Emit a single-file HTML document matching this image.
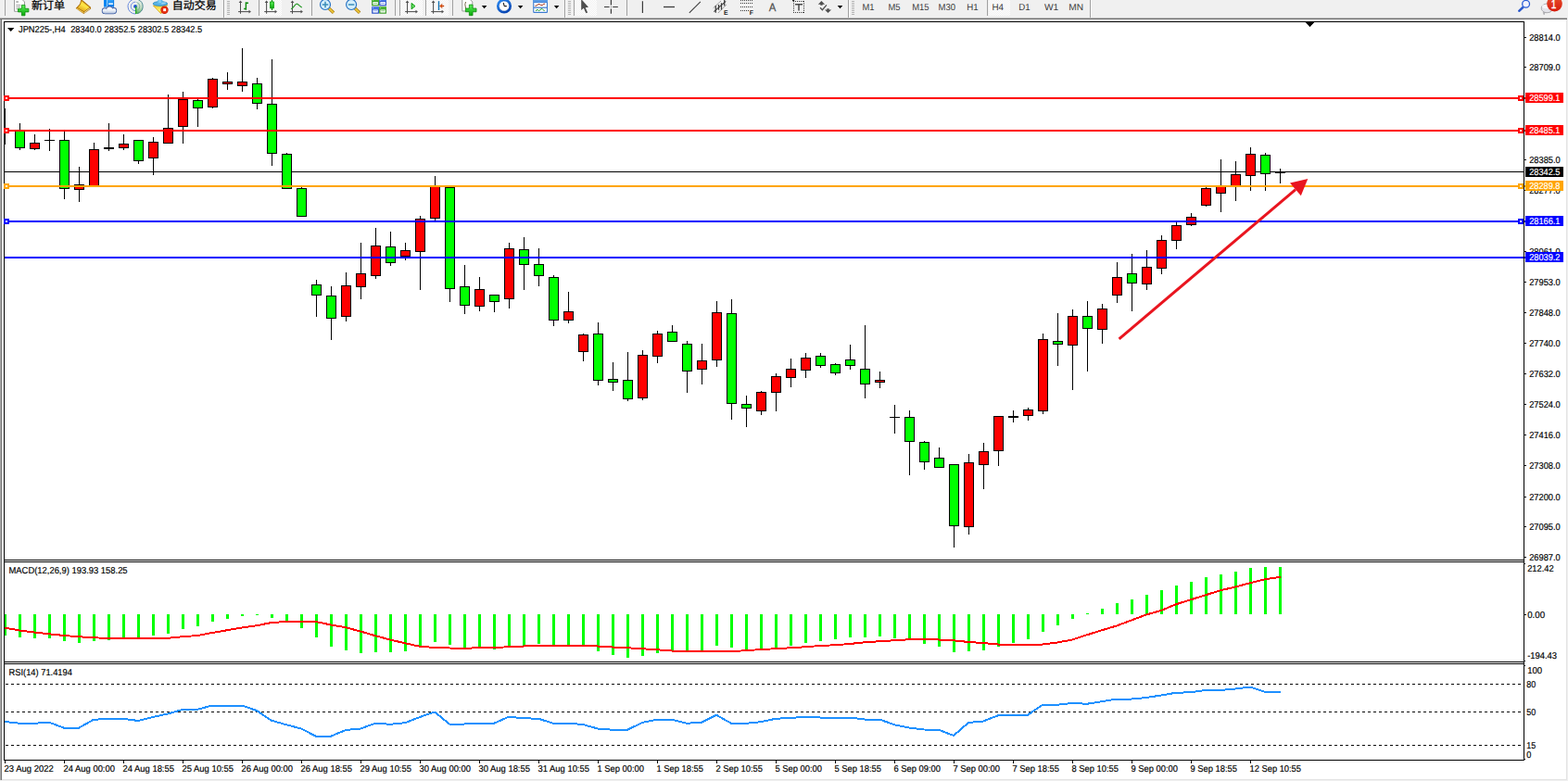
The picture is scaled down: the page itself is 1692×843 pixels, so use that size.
<!DOCTYPE html>
<html><head><meta charset="utf-8"><title>JPN225-,H4</title>
<style>
html,body{margin:0;padding:0;background:#fff;overflow:hidden}
body{width:1692px;height:843px;font-family:"Liberation Sans",sans-serif}
svg{display:block;position:absolute;left:0;top:0}
text{font-family:"Liberation Sans",sans-serif;text-rendering:geometricPrecision}
.tx text{stroke:currentColor;stroke-width:.18px}
</style></head><body>
<svg width="1692" height="843" viewBox="0 0 1692 843">
<rect x="0" y="0" width="1692" height="843" fill="#ffffff"/>
<rect x="0" y="0" width="1692" height="19" fill="#f0f0f0"/>
<rect x="0" y="19" width="1691" height="1" fill="#b9b9b9"/>
<rect x="0" y="20" width="1691" height="1" fill="#6d6d6d"/>
<rect x="0" y="21" width="1" height="822" fill="#ababab"/>
<rect x="1" y="21" width="1" height="822" fill="#747474"/>
<rect x="1690" y="21" width="1" height="821" fill="#e3e3e3"/>
<rect x="1691" y="19" width="1" height="824" fill="#f0f0f0"/>
<rect x="2" y="841" width="1689" height="1" fill="#e3e3e3"/>
<rect x="0" y="842" width="1692" height="1" fill="#f0f0f0"/>
<!-- CHART -->
<g shape-rendering="crispEdges">
<rect x="4" y="23" width="1" height="798" fill="#000"/>
<rect x="4" y="23" width="1641" height="1" fill="#000"/>
<rect x="1644" y="23" width="1" height="798" fill="#000"/>
<rect x="4" y="604" width="1641" height="1" fill="#000"/>
<rect x="4" y="606" width="1641" height="1" fill="#000"/>
<rect x="4" y="714" width="1641" height="1" fill="#000"/>
<rect x="4" y="716" width="1641" height="1" fill="#000"/>
<rect x="4" y="820" width="1641" height="1" fill="#000"/>
<rect x="1409" y="24" width="9" height="1" fill="#000"/>
<rect x="1410" y="25" width="7" height="1" fill="#000"/>
<rect x="1411" y="26" width="5" height="1" fill="#000"/>
<rect x="1412" y="27" width="3" height="1" fill="#000"/>
<rect x="1413" y="28" width="1" height="1" fill="#000"/>
<rect x="5" y="185" width="1639" height="1" fill="#000"/>
<rect x="5" y="117" width="1" height="39" fill="#000"/>
<rect x="21" y="133" width="1" height="29" fill="#000"/>
<rect x="16" y="141" width="11" height="19" fill="#000"/>
<rect x="17" y="142" width="9" height="17" fill="#00ff00"/>
<rect x="37" y="145" width="1" height="17" fill="#000"/>
<rect x="32" y="154" width="11" height="7" fill="#000"/>
<rect x="33" y="155" width="9" height="5" fill="#ff0000"/>
<rect x="53" y="139" width="1" height="24" fill="#000"/>
<rect x="48" y="151" width="11" height="1" fill="#000"/>
<rect x="69" y="142" width="1" height="73" fill="#000"/>
<rect x="64" y="151" width="11" height="53" fill="#000"/>
<rect x="65" y="152" width="9" height="51" fill="#00ff00"/>
<rect x="85" y="180" width="1" height="38" fill="#000"/>
<rect x="80" y="199" width="11" height="6" fill="#000"/>
<rect x="81" y="200" width="9" height="4" fill="#ff0000"/>
<rect x="101" y="154" width="1" height="47" fill="#000"/>
<rect x="96" y="161" width="11" height="40" fill="#000"/>
<rect x="97" y="162" width="9" height="38" fill="#ff0000"/>
<rect x="117" y="133" width="1" height="30" fill="#000"/>
<rect x="112" y="159" width="11" height="2" fill="#000"/>
<rect x="133" y="145" width="1" height="17" fill="#000"/>
<rect x="128" y="155" width="11" height="5" fill="#000"/>
<rect x="129" y="156" width="9" height="3" fill="#ff0000"/>
<rect x="149" y="151" width="1" height="26" fill="#000"/>
<rect x="144" y="151" width="11" height="23" fill="#000"/>
<rect x="145" y="152" width="9" height="21" fill="#00ff00"/>
<rect x="165" y="148" width="1" height="41" fill="#000"/>
<rect x="160" y="153" width="11" height="18" fill="#000"/>
<rect x="161" y="154" width="9" height="16" fill="#ff0000"/>
<rect x="181" y="102" width="1" height="53" fill="#000"/>
<rect x="176" y="138" width="11" height="17" fill="#000"/>
<rect x="177" y="139" width="9" height="15" fill="#ff0000"/>
<rect x="197" y="99" width="1" height="56" fill="#000"/>
<rect x="192" y="107" width="11" height="30" fill="#000"/>
<rect x="193" y="108" width="9" height="28" fill="#ff0000"/>
<rect x="213" y="106" width="1" height="31" fill="#000"/>
<rect x="208" y="108" width="11" height="9" fill="#000"/>
<rect x="209" y="109" width="9" height="7" fill="#00ff00"/>
<rect x="229" y="84" width="1" height="33" fill="#000"/>
<rect x="224" y="85" width="11" height="31" fill="#000"/>
<rect x="225" y="86" width="9" height="29" fill="#ff0000"/>
<rect x="245" y="78" width="1" height="19" fill="#000"/>
<rect x="240" y="88" width="11" height="3" fill="#000"/>
<rect x="241" y="89" width="9" height="1" fill="#ff0000"/>
<rect x="261" y="52" width="1" height="47" fill="#000"/>
<rect x="256" y="88" width="11" height="5" fill="#000"/>
<rect x="257" y="89" width="9" height="3" fill="#ff0000"/>
<rect x="277" y="84" width="1" height="34" fill="#000"/>
<rect x="272" y="90" width="11" height="22" fill="#000"/>
<rect x="273" y="91" width="9" height="20" fill="#00ff00"/>
<rect x="293" y="64" width="1" height="115" fill="#000"/>
<rect x="288" y="112" width="11" height="54" fill="#000"/>
<rect x="289" y="113" width="9" height="52" fill="#00ff00"/>
<rect x="309" y="165" width="1" height="39" fill="#000"/>
<rect x="304" y="166" width="11" height="38" fill="#000"/>
<rect x="305" y="167" width="9" height="36" fill="#00ff00"/>
<rect x="325" y="202" width="1" height="32" fill="#000"/>
<rect x="320" y="203" width="11" height="31" fill="#000"/>
<rect x="321" y="204" width="9" height="29" fill="#00ff00"/>
<rect x="341" y="302" width="1" height="40" fill="#000"/>
<rect x="336" y="307" width="11" height="12" fill="#000"/>
<rect x="337" y="308" width="9" height="10" fill="#00ff00"/>
<rect x="357" y="309" width="1" height="58" fill="#000"/>
<rect x="352" y="319" width="11" height="25" fill="#000"/>
<rect x="353" y="320" width="9" height="23" fill="#00ff00"/>
<rect x="373" y="294" width="1" height="53" fill="#000"/>
<rect x="368" y="308" width="11" height="34" fill="#000"/>
<rect x="369" y="309" width="9" height="32" fill="#ff0000"/>
<rect x="389" y="262" width="1" height="61" fill="#000"/>
<rect x="384" y="295" width="11" height="15" fill="#000"/>
<rect x="385" y="296" width="9" height="13" fill="#ff0000"/>
<rect x="405" y="246" width="1" height="55" fill="#000"/>
<rect x="400" y="265" width="11" height="33" fill="#000"/>
<rect x="401" y="266" width="9" height="31" fill="#ff0000"/>
<rect x="421" y="250" width="1" height="37" fill="#000"/>
<rect x="416" y="266" width="11" height="18" fill="#000"/>
<rect x="417" y="267" width="9" height="16" fill="#00ff00"/>
<rect x="437" y="262" width="1" height="19" fill="#000"/>
<rect x="432" y="270" width="11" height="7" fill="#000"/>
<rect x="433" y="271" width="9" height="5" fill="#ff0000"/>
<rect x="453" y="233" width="1" height="80" fill="#000"/>
<rect x="448" y="236" width="11" height="36" fill="#000"/>
<rect x="449" y="237" width="9" height="34" fill="#ff0000"/>
<rect x="469" y="190" width="1" height="48" fill="#000"/>
<rect x="464" y="201" width="11" height="35" fill="#000"/>
<rect x="465" y="202" width="9" height="33" fill="#ff0000"/>
<rect x="485" y="202" width="1" height="124" fill="#000"/>
<rect x="480" y="202" width="11" height="110" fill="#000"/>
<rect x="481" y="203" width="9" height="108" fill="#00ff00"/>
<rect x="501" y="286" width="1" height="53" fill="#000"/>
<rect x="496" y="309" width="11" height="21" fill="#000"/>
<rect x="497" y="310" width="9" height="19" fill="#00ff00"/>
<rect x="517" y="299" width="1" height="37" fill="#000"/>
<rect x="512" y="312" width="11" height="19" fill="#000"/>
<rect x="513" y="313" width="9" height="17" fill="#ff0000"/>
<rect x="533" y="318" width="1" height="19" fill="#000"/>
<rect x="528" y="318" width="11" height="8" fill="#000"/>
<rect x="529" y="319" width="9" height="6" fill="#00ff00"/>
<rect x="549" y="262" width="1" height="71" fill="#000"/>
<rect x="544" y="268" width="11" height="55" fill="#000"/>
<rect x="545" y="269" width="9" height="53" fill="#ff0000"/>
<rect x="565" y="256" width="1" height="57" fill="#000"/>
<rect x="560" y="269" width="11" height="17" fill="#000"/>
<rect x="561" y="270" width="9" height="15" fill="#00ff00"/>
<rect x="581" y="268" width="1" height="41" fill="#000"/>
<rect x="576" y="285" width="11" height="13" fill="#000"/>
<rect x="577" y="286" width="9" height="11" fill="#00ff00"/>
<rect x="597" y="297" width="1" height="55" fill="#000"/>
<rect x="592" y="299" width="11" height="47" fill="#000"/>
<rect x="593" y="300" width="9" height="45" fill="#00ff00"/>
<rect x="613" y="315" width="1" height="34" fill="#000"/>
<rect x="608" y="336" width="11" height="10" fill="#000"/>
<rect x="609" y="337" width="9" height="8" fill="#ff0000"/>
<rect x="629" y="360" width="1" height="30" fill="#000"/>
<rect x="624" y="361" width="11" height="19" fill="#000"/>
<rect x="625" y="362" width="9" height="17" fill="#ff0000"/>
<rect x="645" y="348" width="1" height="68" fill="#000"/>
<rect x="640" y="360" width="11" height="51" fill="#000"/>
<rect x="641" y="361" width="9" height="49" fill="#00ff00"/>
<rect x="661" y="391" width="1" height="31" fill="#000"/>
<rect x="656" y="409" width="11" height="4" fill="#000"/>
<rect x="657" y="410" width="9" height="2" fill="#00ff00"/>
<rect x="677" y="380" width="1" height="53" fill="#000"/>
<rect x="672" y="410" width="11" height="21" fill="#000"/>
<rect x="673" y="411" width="9" height="19" fill="#00ff00"/>
<rect x="693" y="378" width="1" height="54" fill="#000"/>
<rect x="688" y="383" width="11" height="47" fill="#000"/>
<rect x="689" y="384" width="9" height="45" fill="#ff0000"/>
<rect x="709" y="357" width="1" height="35" fill="#000"/>
<rect x="704" y="360" width="11" height="25" fill="#000"/>
<rect x="705" y="361" width="9" height="23" fill="#ff0000"/>
<rect x="725" y="351" width="1" height="18" fill="#000"/>
<rect x="720" y="358" width="11" height="11" fill="#000"/>
<rect x="721" y="359" width="9" height="9" fill="#00ff00"/>
<rect x="741" y="368" width="1" height="56" fill="#000"/>
<rect x="736" y="371" width="11" height="30" fill="#000"/>
<rect x="737" y="372" width="9" height="28" fill="#00ff00"/>
<rect x="757" y="371" width="1" height="44" fill="#000"/>
<rect x="752" y="389" width="11" height="10" fill="#000"/>
<rect x="753" y="390" width="9" height="8" fill="#ff0000"/>
<rect x="773" y="325" width="1" height="71" fill="#000"/>
<rect x="768" y="337" width="11" height="52" fill="#000"/>
<rect x="769" y="338" width="9" height="50" fill="#ff0000"/>
<rect x="789" y="323" width="1" height="130" fill="#000"/>
<rect x="784" y="338" width="11" height="98" fill="#000"/>
<rect x="785" y="339" width="9" height="96" fill="#00ff00"/>
<rect x="805" y="427" width="1" height="34" fill="#000"/>
<rect x="800" y="436" width="11" height="5" fill="#000"/>
<rect x="801" y="437" width="9" height="3" fill="#00ff00"/>
<rect x="821" y="422" width="1" height="26" fill="#000"/>
<rect x="816" y="423" width="11" height="21" fill="#000"/>
<rect x="817" y="424" width="9" height="19" fill="#ff0000"/>
<rect x="837" y="403" width="1" height="41" fill="#000"/>
<rect x="832" y="406" width="11" height="18" fill="#000"/>
<rect x="833" y="407" width="9" height="16" fill="#ff0000"/>
<rect x="853" y="387" width="1" height="31" fill="#000"/>
<rect x="848" y="398" width="11" height="10" fill="#000"/>
<rect x="849" y="399" width="9" height="8" fill="#ff0000"/>
<rect x="869" y="381" width="1" height="27" fill="#000"/>
<rect x="864" y="386" width="11" height="14" fill="#000"/>
<rect x="865" y="387" width="9" height="12" fill="#ff0000"/>
<rect x="885" y="381" width="1" height="16" fill="#000"/>
<rect x="880" y="384" width="11" height="11" fill="#000"/>
<rect x="881" y="385" width="9" height="9" fill="#00ff00"/>
<rect x="901" y="392" width="1" height="13" fill="#000"/>
<rect x="896" y="393" width="11" height="10" fill="#000"/>
<rect x="897" y="394" width="9" height="8" fill="#00ff00"/>
<rect x="917" y="372" width="1" height="27" fill="#000"/>
<rect x="912" y="388" width="11" height="7" fill="#000"/>
<rect x="913" y="389" width="9" height="5" fill="#00ff00"/>
<rect x="933" y="351" width="1" height="79" fill="#000"/>
<rect x="928" y="398" width="11" height="17" fill="#000"/>
<rect x="929" y="399" width="9" height="15" fill="#00ff00"/>
<rect x="949" y="401" width="1" height="18" fill="#000"/>
<rect x="944" y="410" width="11" height="3" fill="#000"/>
<rect x="945" y="411" width="9" height="1" fill="#ff0000"/>
<rect x="965" y="437" width="1" height="31" fill="#000"/>
<rect x="960" y="450" width="11" height="1" fill="#000"/>
<rect x="981" y="443" width="1" height="70" fill="#000"/>
<rect x="976" y="450" width="11" height="27" fill="#000"/>
<rect x="977" y="451" width="9" height="25" fill="#00ff00"/>
<rect x="997" y="476" width="1" height="31" fill="#000"/>
<rect x="992" y="477" width="11" height="22" fill="#000"/>
<rect x="993" y="478" width="9" height="20" fill="#00ff00"/>
<rect x="1013" y="483" width="1" height="22" fill="#000"/>
<rect x="1008" y="494" width="11" height="11" fill="#000"/>
<rect x="1009" y="495" width="9" height="9" fill="#00ff00"/>
<rect x="1029" y="501" width="1" height="90" fill="#000"/>
<rect x="1024" y="501" width="11" height="67" fill="#000"/>
<rect x="1025" y="502" width="9" height="65" fill="#00ff00"/>
<rect x="1045" y="490" width="1" height="87" fill="#000"/>
<rect x="1040" y="499" width="11" height="70" fill="#000"/>
<rect x="1041" y="500" width="9" height="68" fill="#ff0000"/>
<rect x="1061" y="478" width="1" height="50" fill="#000"/>
<rect x="1056" y="487" width="11" height="15" fill="#000"/>
<rect x="1057" y="488" width="9" height="13" fill="#ff0000"/>
<rect x="1077" y="449" width="1" height="54" fill="#000"/>
<rect x="1072" y="449" width="11" height="38" fill="#000"/>
<rect x="1073" y="450" width="9" height="36" fill="#ff0000"/>
<rect x="1093" y="443" width="1" height="13" fill="#000"/>
<rect x="1088" y="449" width="11" height="2" fill="#000"/>
<rect x="1109" y="440" width="1" height="14" fill="#000"/>
<rect x="1104" y="442" width="11" height="7" fill="#000"/>
<rect x="1105" y="443" width="9" height="5" fill="#ff0000"/>
<rect x="1125" y="360" width="1" height="87" fill="#000"/>
<rect x="1120" y="366" width="11" height="78" fill="#000"/>
<rect x="1121" y="367" width="9" height="76" fill="#ff0000"/>
<rect x="1141" y="338" width="1" height="57" fill="#000"/>
<rect x="1136" y="368" width="11" height="4" fill="#000"/>
<rect x="1137" y="369" width="9" height="2" fill="#00ff00"/>
<rect x="1157" y="334" width="1" height="87" fill="#000"/>
<rect x="1152" y="341" width="11" height="32" fill="#000"/>
<rect x="1153" y="342" width="9" height="30" fill="#ff0000"/>
<rect x="1173" y="325" width="1" height="76" fill="#000"/>
<rect x="1168" y="341" width="11" height="14" fill="#000"/>
<rect x="1169" y="342" width="9" height="12" fill="#00ff00"/>
<rect x="1189" y="328" width="1" height="43" fill="#000"/>
<rect x="1184" y="333" width="11" height="23" fill="#000"/>
<rect x="1185" y="334" width="9" height="21" fill="#ff0000"/>
<rect x="1205" y="283" width="1" height="44" fill="#000"/>
<rect x="1200" y="299" width="11" height="20" fill="#000"/>
<rect x="1201" y="300" width="9" height="18" fill="#ff0000"/>
<rect x="1221" y="274" width="1" height="62" fill="#000"/>
<rect x="1216" y="295" width="11" height="11" fill="#000"/>
<rect x="1217" y="296" width="9" height="9" fill="#00ff00"/>
<rect x="1237" y="270" width="1" height="43" fill="#000"/>
<rect x="1232" y="288" width="11" height="19" fill="#000"/>
<rect x="1233" y="289" width="9" height="17" fill="#ff0000"/>
<rect x="1253" y="254" width="1" height="42" fill="#000"/>
<rect x="1248" y="259" width="11" height="31" fill="#000"/>
<rect x="1249" y="260" width="9" height="29" fill="#ff0000"/>
<rect x="1269" y="240" width="1" height="29" fill="#000"/>
<rect x="1264" y="243" width="11" height="17" fill="#000"/>
<rect x="1265" y="244" width="9" height="15" fill="#ff0000"/>
<rect x="1285" y="230" width="1" height="14" fill="#000"/>
<rect x="1280" y="234" width="11" height="9" fill="#000"/>
<rect x="1281" y="235" width="9" height="7" fill="#ff0000"/>
<rect x="1301" y="202" width="1" height="21" fill="#000"/>
<rect x="1296" y="203" width="11" height="19" fill="#000"/>
<rect x="1297" y="204" width="9" height="17" fill="#ff0000"/>
<rect x="1317" y="172" width="1" height="57" fill="#000"/>
<rect x="1312" y="201" width="11" height="8" fill="#000"/>
<rect x="1313" y="202" width="9" height="6" fill="#ff0000"/>
<rect x="1333" y="174" width="1" height="43" fill="#000"/>
<rect x="1328" y="188" width="11" height="13" fill="#000"/>
<rect x="1329" y="189" width="9" height="11" fill="#ff0000"/>
<rect x="1349" y="159" width="1" height="47" fill="#000"/>
<rect x="1344" y="166" width="11" height="24" fill="#000"/>
<rect x="1345" y="167" width="9" height="22" fill="#ff0000"/>
<rect x="1365" y="165" width="1" height="41" fill="#000"/>
<rect x="1360" y="167" width="11" height="21" fill="#000"/>
<rect x="1361" y="168" width="9" height="19" fill="#00ff00"/>
<rect x="1381" y="182" width="1" height="16" fill="#000"/>
<rect x="1376" y="185" width="11" height="2" fill="#000"/>
<rect x="5" y="105" width="1639" height="2" fill="#ff0000"/>
<rect x="4" y="103" width="6" height="6" fill="#ff0000"/>
<rect x="6" y="105" width="2" height="2" fill="#fff"/>
<rect x="1638" y="103" width="6" height="6" fill="#ff0000"/>
<rect x="1640" y="105" width="2" height="2" fill="#fff"/>
<rect x="1645" y="105" width="2" height="2" fill="#ff0000"/>
<rect x="5" y="140" width="1639" height="2" fill="#ff0000"/>
<rect x="4" y="138" width="6" height="6" fill="#ff0000"/>
<rect x="6" y="140" width="2" height="2" fill="#fff"/>
<rect x="1638" y="138" width="6" height="6" fill="#ff0000"/>
<rect x="1640" y="140" width="2" height="2" fill="#fff"/>
<rect x="1645" y="140" width="2" height="2" fill="#ff0000"/>
<rect x="5" y="200" width="1639" height="2" fill="#ffa500"/>
<rect x="4" y="198" width="6" height="6" fill="#ffa500"/>
<rect x="6" y="200" width="2" height="2" fill="#fff"/>
<rect x="1638" y="198" width="6" height="6" fill="#ffa500"/>
<rect x="1640" y="200" width="2" height="2" fill="#fff"/>
<rect x="1645" y="200" width="2" height="2" fill="#ffa500"/>
<rect x="5" y="238" width="1639" height="2" fill="#0000ff"/>
<rect x="4" y="236" width="6" height="6" fill="#0000ff"/>
<rect x="6" y="238" width="2" height="2" fill="#fff"/>
<rect x="1638" y="236" width="6" height="6" fill="#0000ff"/>
<rect x="1640" y="238" width="2" height="2" fill="#fff"/>
<rect x="1645" y="238" width="2" height="2" fill="#0000ff"/>
<rect x="5" y="277" width="1639" height="2" fill="#0000ff"/>
<rect x="1645" y="277" width="2" height="2" fill="#0000ff"/>
<rect x="5" y="663" width="2" height="23" fill="#00ff00"/>
<rect x="20" y="663" width="3" height="25" fill="#00ff00"/>
<rect x="36" y="663" width="3" height="26" fill="#00ff00"/>
<rect x="52" y="663" width="3" height="26" fill="#00ff00"/>
<rect x="68" y="663" width="3" height="29" fill="#00ff00"/>
<rect x="84" y="663" width="3" height="31" fill="#00ff00"/>
<rect x="100" y="663" width="3" height="29" fill="#00ff00"/>
<rect x="116" y="663" width="3" height="28" fill="#00ff00"/>
<rect x="132" y="663" width="3" height="26" fill="#00ff00"/>
<rect x="148" y="663" width="3" height="25" fill="#00ff00"/>
<rect x="164" y="663" width="3" height="23" fill="#00ff00"/>
<rect x="180" y="663" width="3" height="21" fill="#00ff00"/>
<rect x="196" y="663" width="3" height="16" fill="#00ff00"/>
<rect x="212" y="663" width="3" height="13" fill="#00ff00"/>
<rect x="228" y="663" width="3" height="8" fill="#00ff00"/>
<rect x="244" y="663" width="3" height="5" fill="#00ff00"/>
<rect x="260" y="663" width="3" height="2" fill="#00ff00"/>
<rect x="276" y="663" width="3" height="1" fill="#00ff00"/>
<rect x="292" y="663" width="3" height="4" fill="#00ff00"/>
<rect x="308" y="663" width="3" height="9" fill="#00ff00"/>
<rect x="324" y="663" width="3" height="15" fill="#00ff00"/>
<rect x="340" y="663" width="3" height="25" fill="#00ff00"/>
<rect x="356" y="663" width="3" height="35" fill="#00ff00"/>
<rect x="372" y="663" width="3" height="39" fill="#00ff00"/>
<rect x="388" y="663" width="3" height="42" fill="#00ff00"/>
<rect x="404" y="663" width="3" height="41" fill="#00ff00"/>
<rect x="420" y="663" width="3" height="41" fill="#00ff00"/>
<rect x="436" y="663" width="3" height="40" fill="#00ff00"/>
<rect x="452" y="663" width="3" height="35" fill="#00ff00"/>
<rect x="468" y="663" width="3" height="30" fill="#00ff00"/>
<rect x="484" y="663" width="3" height="33" fill="#00ff00"/>
<rect x="500" y="663" width="3" height="37" fill="#00ff00"/>
<rect x="516" y="663" width="3" height="37" fill="#00ff00"/>
<rect x="532" y="663" width="3" height="38" fill="#00ff00"/>
<rect x="548" y="663" width="3" height="35" fill="#00ff00"/>
<rect x="564" y="663" width="3" height="34" fill="#00ff00"/>
<rect x="580" y="663" width="3" height="32" fill="#00ff00"/>
<rect x="596" y="663" width="3" height="33" fill="#00ff00"/>
<rect x="612" y="663" width="3" height="34" fill="#00ff00"/>
<rect x="628" y="663" width="3" height="35" fill="#00ff00"/>
<rect x="644" y="663" width="3" height="40" fill="#00ff00"/>
<rect x="660" y="663" width="3" height="44" fill="#00ff00"/>
<rect x="676" y="663" width="3" height="47" fill="#00ff00"/>
<rect x="692" y="663" width="3" height="45" fill="#00ff00"/>
<rect x="708" y="663" width="3" height="42" fill="#00ff00"/>
<rect x="724" y="663" width="3" height="39" fill="#00ff00"/>
<rect x="740" y="663" width="3" height="39" fill="#00ff00"/>
<rect x="756" y="663" width="3" height="39" fill="#00ff00"/>
<rect x="772" y="663" width="3" height="34" fill="#00ff00"/>
<rect x="788" y="663" width="3" height="36" fill="#00ff00"/>
<rect x="804" y="663" width="3" height="38" fill="#00ff00"/>
<rect x="820" y="663" width="3" height="39" fill="#00ff00"/>
<rect x="836" y="663" width="3" height="36" fill="#00ff00"/>
<rect x="852" y="663" width="3" height="34" fill="#00ff00"/>
<rect x="868" y="663" width="3" height="31" fill="#00ff00"/>
<rect x="884" y="663" width="3" height="29" fill="#00ff00"/>
<rect x="900" y="663" width="3" height="27" fill="#00ff00"/>
<rect x="916" y="663" width="3" height="25" fill="#00ff00"/>
<rect x="932" y="663" width="3" height="25" fill="#00ff00"/>
<rect x="948" y="663" width="3" height="24" fill="#00ff00"/>
<rect x="964" y="663" width="3" height="26" fill="#00ff00"/>
<rect x="980" y="663" width="3" height="28" fill="#00ff00"/>
<rect x="996" y="663" width="3" height="32" fill="#00ff00"/>
<rect x="1012" y="663" width="3" height="35" fill="#00ff00"/>
<rect x="1028" y="663" width="3" height="41" fill="#00ff00"/>
<rect x="1044" y="663" width="3" height="40" fill="#00ff00"/>
<rect x="1060" y="663" width="3" height="39" fill="#00ff00"/>
<rect x="1076" y="663" width="3" height="35" fill="#00ff00"/>
<rect x="1092" y="663" width="3" height="31" fill="#00ff00"/>
<rect x="1108" y="663" width="3" height="27" fill="#00ff00"/>
<rect x="1124" y="663" width="3" height="19" fill="#00ff00"/>
<rect x="1140" y="663" width="3" height="12" fill="#00ff00"/>
<rect x="1156" y="663" width="3" height="5" fill="#00ff00"/>
<rect x="1172" y="662" width="3" height="1" fill="#00ff00"/>
<rect x="1188" y="657" width="3" height="6" fill="#00ff00"/>
<rect x="1204" y="651" width="3" height="12" fill="#00ff00"/>
<rect x="1220" y="647" width="3" height="16" fill="#00ff00"/>
<rect x="1236" y="642" width="3" height="21" fill="#00ff00"/>
<rect x="1252" y="637" width="3" height="26" fill="#00ff00"/>
<rect x="1268" y="632" width="3" height="31" fill="#00ff00"/>
<rect x="1284" y="628" width="3" height="35" fill="#00ff00"/>
<rect x="1300" y="623" width="3" height="40" fill="#00ff00"/>
<rect x="1316" y="620" width="3" height="43" fill="#00ff00"/>
<rect x="1332" y="617" width="3" height="46" fill="#00ff00"/>
<rect x="1348" y="613" width="3" height="50" fill="#00ff00"/>
<rect x="1364" y="612" width="3" height="51" fill="#00ff00"/>
<rect x="1380" y="612" width="3" height="51" fill="#00ff00"/>
<line x1="6" y1="738.5" x2="1644" y2="738.5" stroke="#000" stroke-width="1" stroke-dasharray="3 3"/>
<line x1="6" y1="768.5" x2="1644" y2="768.5" stroke="#000" stroke-width="1" stroke-dasharray="3 3"/>
<line x1="6" y1="804.5" x2="1644" y2="804.5" stroke="#000" stroke-width="1" stroke-dasharray="3 3"/>
<rect x="5" y="821" width="1" height="3" fill="#000"/>
<rect x="69" y="821" width="1" height="3" fill="#000"/>
<rect x="133" y="821" width="1" height="3" fill="#000"/>
<rect x="197" y="821" width="1" height="3" fill="#000"/>
<rect x="261" y="821" width="1" height="3" fill="#000"/>
<rect x="325" y="821" width="1" height="3" fill="#000"/>
<rect x="389" y="821" width="1" height="3" fill="#000"/>
<rect x="453" y="821" width="1" height="3" fill="#000"/>
<rect x="517" y="821" width="1" height="3" fill="#000"/>
<rect x="581" y="821" width="1" height="3" fill="#000"/>
<rect x="645" y="821" width="1" height="3" fill="#000"/>
<rect x="709" y="821" width="1" height="3" fill="#000"/>
<rect x="773" y="821" width="1" height="3" fill="#000"/>
<rect x="837" y="821" width="1" height="3" fill="#000"/>
<rect x="901" y="821" width="1" height="3" fill="#000"/>
<rect x="965" y="821" width="1" height="3" fill="#000"/>
<rect x="1029" y="821" width="1" height="3" fill="#000"/>
<rect x="1093" y="821" width="1" height="3" fill="#000"/>
<rect x="1157" y="821" width="1" height="3" fill="#000"/>
<rect x="1221" y="821" width="1" height="3" fill="#000"/>
<rect x="1285" y="821" width="1" height="3" fill="#000"/>
<rect x="1349" y="821" width="1" height="3" fill="#000"/>
<rect x="1645" y="40" width="2" height="1" fill="#000"/>
<rect x="1645" y="72" width="2" height="1" fill="#000"/>
<rect x="1645" y="172" width="2" height="1" fill="#000"/>
<rect x="1645" y="205" width="2" height="1" fill="#000"/>
<rect x="1645" y="271" width="2" height="1" fill="#000"/>
<rect x="1645" y="304" width="2" height="1" fill="#000"/>
<rect x="1645" y="337" width="2" height="1" fill="#000"/>
<rect x="1645" y="370" width="2" height="1" fill="#000"/>
<rect x="1645" y="403" width="2" height="1" fill="#000"/>
<rect x="1645" y="436" width="2" height="1" fill="#000"/>
<rect x="1645" y="469" width="2" height="1" fill="#000"/>
<rect x="1645" y="502" width="2" height="1" fill="#000"/>
<rect x="1645" y="536" width="2" height="1" fill="#000"/>
<rect x="1645" y="568" width="2" height="1" fill="#000"/>
<rect x="1645" y="601" width="2" height="1" fill="#000"/>
<rect x="1645" y="608" width="1" height="1" fill="#000"/>
<rect x="1645" y="663" width="2" height="1" fill="#000"/>
<rect x="1645" y="713" width="1" height="1" fill="#000"/>
<rect x="1645" y="718" width="1" height="1" fill="#000"/>
<rect x="1645" y="819" width="1" height="1" fill="#000"/>
</g>
<polyline points="5,677.5 21,680.5 37,682.5 53,684.25 69,686 85,687.25 101,688.25 117,689 133,689 149,689 165,689 181,688.75 197,687.25 213,686 229,683 245,680.25 261,677.5 277,675.25 293,672 309,671 325,671 341,671 357,674.5 373,677.25 389,681.5 405,686.25 421,690.5 437,694.25 453,697.75 469,699 485,699.5 501,699.75 517,699.25 533,699 549,698.25 565,697.5 581,696.5 597,696.5 613,697 629,697 645,697.5 661,698.5 677,699.25 693,700.25 709,701.25 725,702.5 741,703 757,703 773,703 789,703 805,702.25 821,701 837,700.25 853,699.25 869,698.25 885,697 901,696.25 917,695 933,693.25 949,692.25 965,691.25 981,690.25 997,690 1013,690.5 1029,691.25 1045,693 1061,694 1077,695.5 1093,696 1109,696 1125,695.5 1141,693.5 1157,690.5 1173,685.25 1189,680.25 1205,675.5 1221,669.5 1237,663.5 1253,659 1269,652.25 1285,647.25 1301,642.25 1317,637.25 1333,633.5 1349,629.25 1365,625.25 1381,623 1382,623" fill="none" stroke="#ff0000" stroke-width="2" stroke-linejoin="round" shape-rendering="crispEdges"/>
<polyline points="5,779 21,780.75 37,780.75 53,779.75 69,785.75 85,785.75 101,776.75 117,776 133,775.75 149,778 165,774 181,770.5 197,766 213,765.75 229,761.5 245,761.5 261,761.5 277,767 293,777.75 309,782.25 325,786.5 341,794.75 357,794.75 373,788 389,786.5 405,780.75 421,781.75 437,780.25 453,774 469,768.5 485,781.5 501,781.5 517,780.75 533,780.75 549,773.75 565,775.25 581,775.75 597,780.75 613,780.75 629,782 645,786.5 661,787.75 677,787.75 693,780 709,776.75 725,776.75 741,780.75 757,779.75 773,771.75 789,780.75 805,780.75 821,779.25 837,775.75 853,775 869,773.75 885,774.5 901,774.5 917,774.5 933,776.5 949,776.5 965,782.25 981,785.5 997,787.5 1013,787.75 1029,794 1045,780 1061,778.5 1077,772.25 1093,771.75 1109,771.75 1125,760.75 1141,760.75 1157,759 1173,759.75 1189,757.25 1205,754.5 1221,754.5 1237,753 1253,750.5 1269,747.75 1285,747.25 1301,745 1317,745 1333,743.5 1349,741.5 1365,746.75 1381,746.75 1382,746.75" fill="none" stroke="#1e90ff" stroke-width="2" stroke-linejoin="round" shape-rendering="crispEdges"/>
<line x1="1207.6" y1="365.8" x2="1398" y2="204.7" stroke="#e9151f" stroke-width="3"/>
<polygon points="1411.3,193 1392,197.5 1403.8,211.3" fill="#e9151f"/>
<g class="tx" font-family="'Liberation Sans', sans-serif">
<polygon points="8,30 15.4,30 11.7,34" fill="#000"/>
<text x="20" y="35" font-size="10" fill="#000" color="#000" textLength="50.7" lengthAdjust="spacingAndGlyphs">JPN225-,H4</text>
<text x="76.2" y="35" font-size="10" fill="#000" color="#000" textLength="33.4" lengthAdjust="spacingAndGlyphs">28340.0</text>
<text x="112.6" y="35" font-size="10" fill="#000" color="#000" textLength="33.4" lengthAdjust="spacingAndGlyphs">28352.5</text>
<text x="148.8" y="35" font-size="10" fill="#000" color="#000" textLength="33.4" lengthAdjust="spacingAndGlyphs">28302.5</text>
<text x="184.8" y="35" font-size="10" fill="#000" color="#000" textLength="33.4" lengthAdjust="spacingAndGlyphs">28342.5</text>
<text x="9.5" y="619" font-size="10" fill="#000" color="#000" textLength="128.1" lengthAdjust="spacingAndGlyphs">MACD(12,26,9) 193.93 158.25</text>
<text x="9.5" y="729" font-size="10" fill="#000" color="#000" textLength="68.4" lengthAdjust="spacingAndGlyphs">RSI(14) 71.4194</text>
<text x="1650.2" y="44" font-size="10" fill="#000" color="#000" textLength="33.5" lengthAdjust="spacingAndGlyphs">28814.0</text>
<text x="1650.2" y="76" font-size="10" fill="#000" color="#000" textLength="33.5" lengthAdjust="spacingAndGlyphs">28709.0</text>
<text x="1650.2" y="176" font-size="10" fill="#000" color="#000" textLength="33.5" lengthAdjust="spacingAndGlyphs">28385.0</text>
<text x="1650.2" y="209" font-size="10" fill="#000" color="#000" textLength="33.5" lengthAdjust="spacingAndGlyphs">28277.0</text>
<text x="1650.2" y="275" font-size="10" fill="#000" color="#000" textLength="33.5" lengthAdjust="spacingAndGlyphs">28061.0</text>
<text x="1650.2" y="308" font-size="10" fill="#000" color="#000" textLength="33.5" lengthAdjust="spacingAndGlyphs">27953.0</text>
<text x="1650.2" y="341" font-size="10" fill="#000" color="#000" textLength="33.5" lengthAdjust="spacingAndGlyphs">27848.0</text>
<text x="1650.2" y="374" font-size="10" fill="#000" color="#000" textLength="33.5" lengthAdjust="spacingAndGlyphs">27740.0</text>
<text x="1650.2" y="407" font-size="10" fill="#000" color="#000" textLength="33.5" lengthAdjust="spacingAndGlyphs">27632.0</text>
<text x="1650.2" y="440" font-size="10" fill="#000" color="#000" textLength="33.5" lengthAdjust="spacingAndGlyphs">27524.0</text>
<text x="1650.2" y="473" font-size="10" fill="#000" color="#000" textLength="33.5" lengthAdjust="spacingAndGlyphs">27416.0</text>
<text x="1650.2" y="506" font-size="10" fill="#000" color="#000" textLength="33.5" lengthAdjust="spacingAndGlyphs">27308.0</text>
<text x="1650.2" y="540" font-size="10" fill="#000" color="#000" textLength="33.5" lengthAdjust="spacingAndGlyphs">27200.0</text>
<text x="1650.2" y="572" font-size="10" fill="#000" color="#000" textLength="33.5" lengthAdjust="spacingAndGlyphs">27095.0</text>
<text x="1650.2" y="605" font-size="10" fill="#000" color="#000" textLength="33.5" lengthAdjust="spacingAndGlyphs">26987.0</text>
<rect x="1646" y="100" width="41" height="11" fill="#ff0000"/>
<text x="1650.2" y="109" font-size="10" fill="#fff" color="#fff" textLength="33.3" lengthAdjust="spacingAndGlyphs">28599.1</text>
<rect x="1646" y="135" width="41" height="11" fill="#ff0000"/>
<text x="1650.2" y="144" font-size="10" fill="#fff" color="#fff" textLength="33.3" lengthAdjust="spacingAndGlyphs">28485.1</text>
<rect x="1646" y="180" width="41" height="11" fill="#000"/>
<text x="1650.2" y="189" font-size="10" fill="#fff" color="#fff" textLength="33.3" lengthAdjust="spacingAndGlyphs">28342.5</text>
<rect x="1646" y="195" width="41" height="11" fill="#ffa500"/>
<text x="1650.2" y="204" font-size="10" fill="#fff" color="#fff" textLength="33.3" lengthAdjust="spacingAndGlyphs">28289.8</text>
<rect x="1646" y="233" width="41" height="11" fill="#0000ff"/>
<text x="1650.2" y="242" font-size="10" fill="#fff" color="#fff" textLength="33.3" lengthAdjust="spacingAndGlyphs">28166.1</text>
<rect x="1646" y="272" width="41" height="11" fill="#0000ff"/>
<text x="1650.2" y="281" font-size="10" fill="#fff" color="#fff" textLength="33.3" lengthAdjust="spacingAndGlyphs">28039.2</text>
<text x="1648.2" y="617" font-size="10" fill="#000" color="#000" textLength="28.5" lengthAdjust="spacingAndGlyphs">212.42</text>
<text x="1648.2" y="667" font-size="10" fill="#000" color="#000" textLength="18.9" lengthAdjust="spacingAndGlyphs">0.00</text>
<text x="1648.2" y="711" font-size="10" fill="#000" color="#000" textLength="31.9" lengthAdjust="spacingAndGlyphs">-194.43</text>
<text x="1648.2" y="727" font-size="10" fill="#000" color="#000" textLength="15.9" lengthAdjust="spacingAndGlyphs">100</text>
<text x="1647.3" y="742" font-size="10" fill="#000" color="#000" textLength="9.9" lengthAdjust="spacingAndGlyphs">80</text>
<text x="1647.3" y="772" font-size="10" fill="#000" color="#000" textLength="9.9" lengthAdjust="spacingAndGlyphs">50</text>
<text x="1647.3" y="808" font-size="10" fill="#000" color="#000" textLength="9.9" lengthAdjust="spacingAndGlyphs">15</text>
<text x="1647.3" y="818" font-size="10" fill="#000" color="#000" textLength="5.1" lengthAdjust="spacingAndGlyphs">0</text>
<text x="4.6" y="833" font-size="10" fill="#000" color="#000" textLength="53.1" lengthAdjust="spacingAndGlyphs">23 Aug 2022</text>
<text x="68.6" y="833" font-size="10" fill="#000" color="#000" textLength="55.3" lengthAdjust="spacingAndGlyphs">24 Aug 00:00</text>
<text x="132.6" y="833" font-size="10" fill="#000" color="#000" textLength="55.3" lengthAdjust="spacingAndGlyphs">24 Aug 18:55</text>
<text x="196.6" y="833" font-size="10" fill="#000" color="#000" textLength="55.3" lengthAdjust="spacingAndGlyphs">25 Aug 10:55</text>
<text x="260.6" y="833" font-size="10" fill="#000" color="#000" textLength="55.3" lengthAdjust="spacingAndGlyphs">26 Aug 00:00</text>
<text x="324.6" y="833" font-size="10" fill="#000" color="#000" textLength="55.3" lengthAdjust="spacingAndGlyphs">26 Aug 18:55</text>
<text x="388.6" y="833" font-size="10" fill="#000" color="#000" textLength="55.3" lengthAdjust="spacingAndGlyphs">29 Aug 10:55</text>
<text x="452.6" y="833" font-size="10" fill="#000" color="#000" textLength="55.3" lengthAdjust="spacingAndGlyphs">30 Aug 00:00</text>
<text x="516.6" y="833" font-size="10" fill="#000" color="#000" textLength="55.3" lengthAdjust="spacingAndGlyphs">30 Aug 18:55</text>
<text x="580.6" y="833" font-size="10" fill="#000" color="#000" textLength="55.3" lengthAdjust="spacingAndGlyphs">31 Aug 10:55</text>
<text x="644.6" y="833" font-size="10" fill="#000" color="#000" textLength="50.3" lengthAdjust="spacingAndGlyphs">1 Sep 00:00</text>
<text x="708.6" y="833" font-size="10" fill="#000" color="#000" textLength="50.3" lengthAdjust="spacingAndGlyphs">1 Sep 18:55</text>
<text x="772.6" y="833" font-size="10" fill="#000" color="#000" textLength="50.3" lengthAdjust="spacingAndGlyphs">2 Sep 10:55</text>
<text x="836.6" y="833" font-size="10" fill="#000" color="#000" textLength="50.3" lengthAdjust="spacingAndGlyphs">5 Sep 00:00</text>
<text x="900.6" y="833" font-size="10" fill="#000" color="#000" textLength="50.3" lengthAdjust="spacingAndGlyphs">5 Sep 18:55</text>
<text x="964.6" y="833" font-size="10" fill="#000" color="#000" textLength="50.3" lengthAdjust="spacingAndGlyphs">6 Sep 09:00</text>
<text x="1028.6" y="833" font-size="10" fill="#000" color="#000" textLength="50.3" lengthAdjust="spacingAndGlyphs">7 Sep 00:00</text>
<text x="1092.6" y="833" font-size="10" fill="#000" color="#000" textLength="50.3" lengthAdjust="spacingAndGlyphs">7 Sep 18:55</text>
<text x="1156.6" y="833" font-size="10" fill="#000" color="#000" textLength="50.3" lengthAdjust="spacingAndGlyphs">8 Sep 10:55</text>
<text x="1220.6" y="833" font-size="10" fill="#000" color="#000" textLength="50.3" lengthAdjust="spacingAndGlyphs">9 Sep 00:00</text>
<text x="1284.6" y="833" font-size="10" fill="#000" color="#000" textLength="50.3" lengthAdjust="spacingAndGlyphs">9 Sep 18:55</text>
<text x="1348.6" y="833" font-size="10" fill="#000" color="#000" textLength="55.3" lengthAdjust="spacingAndGlyphs">12 Sep 10:55</text>
</g>
<!-- TOOLBAR -->
<defs>
<linearGradient id="gGreen" x1="0" y1="0" x2="0" y2="1"><stop offset="0" stop-color="#5cf05c"/><stop offset="1" stop-color="#0aa80a"/></linearGradient>
<linearGradient id="gGold" x1="0" y1="0" x2="1" y2="1"><stop offset="0" stop-color="#fbe24a"/><stop offset="1" stop-color="#c98a12"/></linearGradient>
<linearGradient id="gRed" x1="0" y1="0" x2="0" y2="1"><stop offset="0" stop-color="#e8502e"/><stop offset="1" stop-color="#d61c0c"/></linearGradient>
<linearGradient id="gCloud" x1="0" y1="0" x2="0" y2="1"><stop offset="0" stop-color="#ffffff"/><stop offset="1" stop-color="#b9c9e2"/></linearGradient>
<linearGradient id="gBlue" x1="0" y1="0" x2="0" y2="1"><stop offset="0" stop-color="#35a8ff"/><stop offset="1" stop-color="#0a78e8"/></linearGradient>
<linearGradient id="gClock" x1="0" y1="0" x2="0.6" y2="1"><stop offset="0" stop-color="#2c8cf4"/><stop offset="1" stop-color="#0a48b4"/></linearGradient>
<linearGradient id="gGold2" x1="0.8" y1="0" x2="0.2" y2="1"><stop offset="0" stop-color="#f4c82a"/><stop offset="0.45" stop-color="#ffe648"/><stop offset="1" stop-color="#dc9c12"/></linearGradient>
<linearGradient id="gRadioG" x1="0.3" y1="0" x2="0.2" y2="1"><stop offset="0" stop-color="#e4efe4" stop-opacity="0.6"/><stop offset="0.55" stop-color="#b9d8b9" stop-opacity="0.9"/><stop offset="1" stop-color="#4fb04f"/></linearGradient>
<linearGradient id="gFace" x1="0.3" y1="0" x2="0.6" y2="1"><stop offset="0" stop-color="#f6cc30"/><stop offset="0.6" stop-color="#fff070"/><stop offset="1" stop-color="#f0c020"/></linearGradient>
<linearGradient id="gCloudU" gradientUnits="userSpaceOnUse" x1="0" y1="7.5" x2="0" y2="14.5"><stop offset="0" stop-color="#ffffff"/><stop offset="0.5" stop-color="#eef2f8"/><stop offset="1" stop-color="#b4c4de"/></linearGradient>
<radialGradient id="gRadio" cx="0.5" cy="0.5" r="0.5"><stop offset="0" stop-color="#8fb5e8"/><stop offset="1" stop-color="#dbe8f5" stop-opacity="0.3"/></radialGradient>
<pattern id="chk" width="2" height="2" patternUnits="userSpaceOnUse"><rect width="2" height="2" fill="#f0f0f0"/><rect width="1" height="1" fill="#fff"/><rect x="1" y="1" width="1" height="1" fill="#fff"/></pattern>
</defs>
<g shape-rendering="crispEdges">
<rect x="5" y="0" width="1" height="17" fill="#a0a0a0"/>
<rect x="279" y="0" width="1" height="17" fill="#a0a0a0"/>
<rect x="336" y="0" width="1" height="17" fill="#a0a0a0"/>
<rect x="426" y="0" width="1" height="17" fill="#a0a0a0"/>
<rect x="431" y="0" width="1" height="17" fill="#a0a0a0"/>
<rect x="459" y="0" width="1" height="17" fill="#a0a0a0"/>
<rect x="488" y="0" width="1" height="17" fill="#a0a0a0"/>
<rect x="619" y="0" width="1" height="17" fill="#a0a0a0"/>
<rect x="676" y="0" width="1" height="17" fill="#a0a0a0"/>
<rect x="1065" y="0" width="1" height="17" fill="#a0a0a0"/>
<rect x="241" y="0" width="1" height="19" fill="#a0a0a0"/><rect x="242" y="0" width="1" height="19" fill="#fbfbfb"/>
<rect x="609" y="0" width="1" height="19" fill="#a0a0a0"/><rect x="610" y="0" width="1" height="19" fill="#fbfbfb"/>
<rect x="915" y="0" width="1" height="19" fill="#a0a0a0"/><rect x="916" y="0" width="1" height="19" fill="#fbfbfb"/>
<rect x="1176" y="0" width="1" height="19" fill="#a0a0a0"/><rect x="1177" y="0" width="1" height="19" fill="#fbfbfb"/>
<rect x="245" y="1" width="3" height="1" fill="#b4b4b4"/>
<rect x="245" y="3" width="3" height="1" fill="#b4b4b4"/>
<rect x="245" y="5" width="3" height="1" fill="#b4b4b4"/>
<rect x="245" y="7" width="3" height="1" fill="#b4b4b4"/>
<rect x="245" y="9" width="3" height="1" fill="#b4b4b4"/>
<rect x="245" y="11" width="3" height="1" fill="#b4b4b4"/>
<rect x="245" y="13" width="3" height="1" fill="#b4b4b4"/>
<rect x="245" y="15" width="3" height="1" fill="#b4b4b4"/>
<rect x="613" y="1" width="3" height="1" fill="#b4b4b4"/>
<rect x="613" y="3" width="3" height="1" fill="#b4b4b4"/>
<rect x="613" y="5" width="3" height="1" fill="#b4b4b4"/>
<rect x="613" y="7" width="3" height="1" fill="#b4b4b4"/>
<rect x="613" y="9" width="3" height="1" fill="#b4b4b4"/>
<rect x="613" y="11" width="3" height="1" fill="#b4b4b4"/>
<rect x="613" y="13" width="3" height="1" fill="#b4b4b4"/>
<rect x="613" y="15" width="3" height="1" fill="#b4b4b4"/>
<rect x="919" y="1" width="3" height="1" fill="#b4b4b4"/>
<rect x="919" y="3" width="3" height="1" fill="#b4b4b4"/>
<rect x="919" y="5" width="3" height="1" fill="#b4b4b4"/>
<rect x="919" y="7" width="3" height="1" fill="#b4b4b4"/>
<rect x="919" y="9" width="3" height="1" fill="#b4b4b4"/>
<rect x="919" y="11" width="3" height="1" fill="#b4b4b4"/>
<rect x="919" y="13" width="3" height="1" fill="#b4b4b4"/>
<rect x="919" y="15" width="3" height="1" fill="#b4b4b4"/>
<rect x="281" y="0" width="23" height="17" fill="url(#chk)"/>
<rect x="432" y="0" width="24" height="17" fill="url(#chk)"/>
<rect x="460" y="0" width="24" height="17" fill="url(#chk)"/>
<rect x="620" y="0" width="24" height="17" fill="url(#chk)"/>
<rect x="1067" y="0" width="23" height="17" fill="url(#chk)"/>
</g>
<path d="M15.5,-1 h8 l3,3 v10.3 h-11z" fill="#fff" stroke="#9c9c9c" stroke-width="1"/>
<rect x="17.3" y="1.4" width="2.6" height="1.2" fill="#8a8a8a"/><rect x="17.3" y="5" width="5" height="0.9" fill="#9a9a9a"/><rect x="17.3" y="7" width="4.5" height="0.9" fill="#9a9a9a"/><rect x="17.3" y="9.1" width="2.2" height="0.9" fill="#9a9a9a"/>
<path d="M23.4,5.3999999999999995 h3.6 v3.9000000000000004 h3.9000000000000004 v3.6 h-3.9000000000000004 v3.9000000000000004 h-3.6 v-3.9000000000000004 h-3.9000000000000004 v-3.6 h3.9000000000000004z" fill="url(#gGreen)" stroke="#0c8a0c" stroke-width="0.8"/>
<text x="34" y="10.1" font-size="12" fill="#000" stroke="#000" stroke-width="0.24" textLength="36" lengthAdjust="spacingAndGlyphs" style="font-family:'Liberation Sans','Noto Sans CJK SC',sans-serif">新订单</text>
<path d="M87.6,-1 L98,7.7 L98.1,9.4 L90.4,15.1 L81.7,9 L86.1,4.2 Z" fill="#b0720c"/>
<path d="M88,1 L96.5,7.9 L90.7,12.2 L83.8,8.2 L87,4.7 Z" fill="url(#gGold2)"/>
<path d="M83.1,8.8 L90.6,13.3 L90.4,14.3 L82.6,9.5 Z" fill="#f3cf58"/>
<path d="M97,8.4 L97.3,9.2 L91.1,13.9 L91,12.9 Z" fill="#ece4ae"/>
<path d="M115.2,-1 h7.8 v8.6 h-7.8z" fill="url(#gBlue)"/><path d="M112,-1 h3.3 v8.6 h-3.3z" fill="#0a86f2"/><rect x="115.1" y="-1" width="0.7" height="8.4" fill="#bfe6ff"/><rect x="122.3" y="-1" width="0.8" height="8.6" fill="#0a7ae0"/>
<rect x="117" y="3.4" width="5" height="1.5" fill="#d4f0ff"/><rect x="118.4" y="3.7" width="3.2" height="0.8" fill="#fff"/>
<g fill="#3f5ea4" stroke="#3f5ea4" stroke-width="1.7"><circle cx="113.1" cy="11.7" r="2.5"/><circle cx="118.2" cy="10.5" r="3.1"/><circle cx="122.8" cy="11.4" r="2.5"/><rect x="112" y="11.4" width="12" height="3" rx="1.5"/></g><g fill="url(#gCloudU)"><circle cx="113.1" cy="11.7" r="2.5"/><circle cx="118.2" cy="10.5" r="3.1"/><circle cx="122.8" cy="11.4" r="2.5"/><rect x="112" y="11.4" width="12" height="3" rx="1.5"/></g>
<path d="M146.6,7 L146.6,15 A8,8 0 0 0 149.4,-0.4 Z" fill="url(#gRadioG)"/>
<g fill="none" stroke-linecap="round"><path d="M146,15 A8,8 0 0 1 146,-1" stroke="#3f6ad6" stroke-width="1" opacity="0.75" stroke-dasharray="5 1.2 9 1.2 5"/><path d="M146,11.7 A4.8,4.8 0 0 1 146,2.1" stroke="#3f6ad6" stroke-width="1" opacity="0.7"/><path d="M149.5,-0.3 A8,8 0 0 1 148.5,14.6" stroke="#2f7684" stroke-width="1" opacity="0.8"/><path d="M147.6,2.4 A4.8,4.8 0 0 1 148.6,11" stroke="#5a9a86" stroke-width="0.9" opacity="0.7"/></g>
<circle cx="146" cy="6.9" r="1.9" fill="#1f52d2"/>
<rect x="146" y="7" width="1.3" height="8" fill="#22a622"/>
<path d="M165.3,6 L180.7,5.5 L173.7,14.8 Z" fill="url(#gFace)" stroke="#d4a012" stroke-width="0.7"/>
<ellipse cx="172.9" cy="4" rx="7.8" ry="2.4" fill="#58b2e6" stroke="#1d84b6" stroke-width="0.7"/><path d="M169.4,3.6 L170.8,-1 H175 L176.2,3.6 Q172.8,5 169.4,3.6z" fill="#62baea"/><path d="M171.6,-1 h1.8 l0.4,4 h-2.4z" fill="#9ad8f6" opacity="0.8"/><ellipse cx="176.6" cy="3.4" rx="2.6" ry="0.9" fill="#a6dcf8" opacity="0.8" transform="rotate(-12 176.6 3.4)"/>
<circle cx="177.5" cy="10.75" r="4.15" fill="#c61a04"/><circle cx="177.5" cy="10.75" r="3.5" fill="#e83010"/><rect x="176.2" y="9.2" width="2.9" height="2.9" fill="#fff"/>
<text x="185.7" y="10.1" font-size="12" fill="#000" stroke="#000" stroke-width="0.24" textLength="48" lengthAdjust="spacingAndGlyphs" style="font-family:'Liberation Sans','Noto Sans CJK SC',sans-serif">自动交易</text>
<g stroke="#505050" stroke-width="1.05" fill="#505050"><line x1="259.5" y1="2" x2="259.5" y2="14.8"/><line x1="257.1" y1="12.6" x2="269.0" y2="12.6"/><path d="M259.5,0.6 l1.9,2.4 h-3.8z" stroke="none"/><path d="M270.9,12.6 l-2.4,1.9 v-3.8z" stroke="none"/></g>
<path d="M265.4,2.2 V10.8 M265.4,3.3 H268 M263.2,9.5 H265.4" stroke="#0a8a0a" stroke-width="1.4" fill="none"/>
<g stroke="#505050" stroke-width="1.05" fill="#505050"><line x1="287.6" y1="2" x2="287.6" y2="14.8"/><line x1="285.20000000000005" y1="12.6" x2="297.1" y2="12.6"/><path d="M287.6,0.6 l1.9,2.4 h-3.8z" stroke="none"/><path d="M299.0,12.6 l-2.4,1.9 v-3.8z" stroke="none"/></g>
<line x1="293.5" y1="0" x2="293.5" y2="11" stroke="#0a8a0a" stroke-width="1.2"/><rect x="291.5" y="2" width="4" height="6.8" fill="url(#gGreen)" stroke="#0a9a0a" stroke-width="0.8"/>
<g stroke="#505050" stroke-width="1.05" fill="#505050"><line x1="315.5" y1="2" x2="315.5" y2="14.8"/><line x1="313.1" y1="12.6" x2="325.0" y2="12.6"/><path d="M315.5,0.6 l1.9,2.4 h-3.8z" stroke="none"/><path d="M326.9,12.6 l-2.4,1.9 v-3.8z" stroke="none"/></g>
<path d="M314.2,9.8 C317,8 318.5,4.2 320.3,4.2 C322,4.2 323.5,7.2 325.8,8" stroke="#2a9a2a" stroke-width="1.3" fill="none"/>
<line x1="354.6" y1="8.6" x2="360" y2="13.8" stroke="#a87a10" stroke-width="3.4" stroke-linecap="butt"/>
<line x1="354.8" y1="8.8" x2="359.8" y2="13.6" stroke="#ecc63a" stroke-width="2"/>
<circle cx="351" cy="5" r="5.5" fill="#d4effb" stroke="#2a74c4" stroke-width="1.2"/>
<line x1="347.8" y1="5" x2="354.2" y2="5" stroke="#3a8cb8" stroke-width="1.5"/>
<line x1="351" y1="1.8" x2="351" y2="8.2" stroke="#3a8cb8" stroke-width="1.5"/>
<line x1="382.70000000000005" y1="8.6" x2="388.1" y2="13.8" stroke="#a87a10" stroke-width="3.4" stroke-linecap="butt"/>
<line x1="382.90000000000003" y1="8.8" x2="387.90000000000003" y2="13.6" stroke="#ecc63a" stroke-width="2"/>
<circle cx="379.1" cy="5" r="5.5" fill="#d4effb" stroke="#2a74c4" stroke-width="1.2"/>
<line x1="375.90000000000003" y1="5" x2="382.3" y2="5" stroke="#3a8cb8" stroke-width="1.5"/>
<rect x="401.2" y="-1" width="7.7" height="7.3" fill="#2f9a1c"/><rect x="401.2" y="-1" width="7.7" height="2.4" fill="#4ab432"/><rect x="402.4" y="2" width="5.4" height="3.2" fill="#fff"/><rect x="403.2" y="2.9" width="3.8" height="0.9" fill="#4ab432" opacity="0.7"/><rect x="402.3" y="-0.19999999999999996" width="0.8" height="0.8" fill="#fff" opacity="0.8"/>
<rect x="409.2" y="-1" width="7.7" height="7.3" fill="#2048c8"/><rect x="409.2" y="-1" width="7.7" height="2.4" fill="#4a78e8"/><rect x="410.4" y="2" width="5.4" height="3.2" fill="#fff"/><rect x="411.2" y="2.9" width="3.8" height="0.9" fill="#4a78e8" opacity="0.7"/><rect x="410.3" y="-0.19999999999999996" width="0.8" height="0.8" fill="#fff" opacity="0.8"/>
<rect x="401.2" y="7.4" width="7.7" height="7.3" fill="#2048c8"/><rect x="401.2" y="7.4" width="7.7" height="2.4" fill="#4a78e8"/><rect x="402.4" y="10.4" width="5.4" height="3.2" fill="#fff"/><rect x="403.2" y="11.3" width="3.8" height="0.9" fill="#4a78e8" opacity="0.7"/><rect x="402.3" y="8.200000000000001" width="0.8" height="0.8" fill="#fff" opacity="0.8"/>
<rect x="409.2" y="7.4" width="7.7" height="7.3" fill="#2f9a1c"/><rect x="409.2" y="7.4" width="7.7" height="2.4" fill="#4ab432"/><rect x="410.4" y="10.4" width="5.4" height="3.2" fill="#fff"/><rect x="411.2" y="11.3" width="3.8" height="0.9" fill="#4ab432" opacity="0.7"/><rect x="410.3" y="8.200000000000001" width="0.8" height="0.8" fill="#fff" opacity="0.8"/>
<g stroke="#505050" stroke-width="1.05" fill="#505050"><line x1="439.5" y1="2" x2="439.5" y2="14.8"/><line x1="437.1" y1="12.6" x2="449.0" y2="12.6"/><path d="M439.5,0.6 l1.9,2.4 h-3.8z" stroke="none"/><path d="M450.9,12.6 l-2.4,1.9 v-3.8z" stroke="none"/></g>
<path d="M444.1,3.4 V9.8 L448,6.6 Z" fill="#66dd66" stroke="#0a9a0a" stroke-width="1"/>
<g stroke="#505050" stroke-width="1.05" fill="#505050"><line x1="467.6" y1="2" x2="467.6" y2="14.8"/><line x1="465.20000000000005" y1="12.6" x2="477.1" y2="12.6"/><path d="M467.6,0.6 l1.9,2.4 h-3.8z" stroke="none"/><path d="M479.0,12.6 l-2.4,1.9 v-3.8z" stroke="none"/></g>
<line x1="473.5" y1="1.2" x2="473.5" y2="11" stroke="#1272b4" stroke-width="1.4"/>
<path d="M474.4,6.5 L477.2,4.2 L476.7,6 L479,6 L479,7 L476.7,7 L477.2,8.8 Z" fill="#d84a08" stroke="#b83a04" stroke-width="0.4"/>
<path d="M498.8,-1 h8 l3,3 v10 h-11z" fill="#fff" stroke="#9c9c9c" stroke-width="1"/><path d="M502.6,2 q-1.6,2 0,7" stroke="#6a5a3a" stroke-width="0.9" fill="none"/>
<path d="M506.34999999999997,5.1000000000000005 h3.7 v3.9499999999999997 h3.9499999999999997 v3.7 h-3.9499999999999997 v3.9499999999999997 h-3.7 v-3.9499999999999997 h-3.9499999999999997 v-3.7 h3.9499999999999997z" fill="url(#gGreen)" stroke="#0c8a0c" stroke-width="0.8"/>
<path d="M519.8,6 h5.6 l-2.8,3.3z" fill="#000"/>
<circle cx="544" cy="6.5" r="6.7" fill="#fff" stroke="url(#gClock)" stroke-width="2.7"/><rect x="542.4" y="-1" width="3.2" height="1.6" fill="#1a6ae0"/>
<path d="M544.2,6.6 L543.2,3 M544.2,6.6 L546.8,6.6" stroke="#222" stroke-width="1.1" fill="none"/><circle cx="544" cy="6.4" r="5" fill="none" stroke="#888" stroke-width="0.6" stroke-dasharray="0.6 2"/>
<path d="M558.8,6 h5.6 l-2.8,3.3z" fill="#000"/>
<rect x="575.2" y="-1" width="15.8" height="14.9" rx="0.8" fill="#3a7ad0"/><rect x="575.2" y="-1" width="15.8" height="3.4" fill="#5a9ae4"/><rect x="576.3" y="3" width="13.6" height="4.6" fill="#fff"/><rect x="576.3" y="8.8" width="13.6" height="4" fill="#fff"/>
<path d="M577.4,6.2 h1.4 l2,-1.6 h1.4 l1.6,1 h1.4 l1.6,-1.4 h1.2" stroke="#a02a10" stroke-width="1" fill="none"/><path d="M578,11.6 l2,-1.2 l1.6,1.2 l2.6,-2 l1,0 l2.4,2.4" stroke="#1a9a2a" stroke-width="1" fill="none"/>
<path d="M597.8,6 h5.6 l-2.8,3.3z" fill="#000"/>
<path d="M627.2,-1 V11 L629.9,8.8 L632.3,14.3 L634.1,13.4 L631.7,8.2 L635,7.7 Z" fill="#4e4e4e"/>
<path d="M659.4,0 V5.6 M659.4,9.4 V14.8 M652,7.5 H657.6 M661.2,7.5 H666.8" stroke="#3c3c3c" stroke-width="1.2" fill="none"/><rect x="659" y="7.1" width="0.8" height="0.8" fill="#3c3c3c"/>
<line x1="693.4" y1="1.2" x2="693.4" y2="13.9" stroke="#3c3c3c" stroke-width="1.2"/>
<line x1="716" y1="7.5" x2="728" y2="7.5" stroke="#3c3c3c" stroke-width="1.3"/>
<line x1="743.8" y1="13.9" x2="755.9" y2="1.8" stroke="#3c3c3c" stroke-width="1.05"/>
<g stroke="#3c3c3c" fill="none"><path d="M769.8,8.5 L777.7,1.3 M775.1,13.7 L783.6,5.3" stroke-width="0.8" stroke-dasharray="1 0.6"/><path d="M770.4,12.6 L783.2,1.3" stroke-width="1.1"/><path d="M772.3,6.2 V13.7 M775.5,5.1 V10.7 M778.5,3.2 V10.5 M781.7,0 V6.2" stroke-width="1.25"/></g>
<text x="780.9" y="15.9" font-size="6.8" font-weight="bold" fill="#222" font-family="'Liberation Sans',sans-serif">E</text>
<line x1="799" y1="0.6" x2="812.2" y2="0.6" stroke="#3c3c3c" stroke-width="1" stroke-dasharray="1 1"/>
<line x1="799" y1="3.5" x2="812.2" y2="3.5" stroke="#3c3c3c" stroke-width="1" stroke-dasharray="1 1"/>
<line x1="799" y1="7.5" x2="812.2" y2="7.5" stroke="#3c3c3c" stroke-width="1" stroke-dasharray="1 1"/>
<line x1="799" y1="11.5" x2="808" y2="11.5" stroke="#3c3c3c" stroke-width="1" stroke-dasharray="1 1"/>
<text x="808.8" y="15.9" font-size="6.8" font-weight="bold" fill="#222" font-family="'Liberation Sans',sans-serif">F</text>
<text x="829.8" y="11.8" font-size="12.2" fill="#505050" stroke="#505050" stroke-width="0.25" font-family="'Liberation Sans',sans-serif" textLength="7.6" lengthAdjust="spacingAndGlyphs">A</text>
<g stroke="#3c3c3c" stroke-width="1" stroke-dasharray="1 1" shape-rendering="crispEdges"><path d="M856,1.5 H868 M856,13.5 H868 M856.5,1 V14 M867.5,1 V14"/></g><rect x="855" y="0" width="2.2" height="1.3" fill="#222"/>
<path d="M858,4.7 H866 M862,4.7 V11.6" stroke="#4a4a4a" stroke-width="1.5" fill="none"/>
<path d="M886.4,1 L890.1,4.7 H887.6 V5.8 H885.3 V4.7 H882.8Z" fill="#4e4e4e"/><path d="M890,10.4 H892.3 V9.2 H894.7 V10.4 H897.1 L893.5,14Z" fill="#4e4e4e"/><path d="M885,8.2 L887.4,10.7 L891.9,5.3" stroke="#4e4e4e" stroke-width="1.3" fill="none"/>
<path d="M903.7,6 h5.6 l-2.8,3.3z" fill="#000"/>
<text x="930.5" y="11" font-size="10" fill="#3a3a3a" font-family="'Liberation Sans',sans-serif" textLength="13.0" lengthAdjust="spacingAndGlyphs">M1</text>
<text x="958.5" y="11" font-size="10" fill="#3a3a3a" font-family="'Liberation Sans',sans-serif" textLength="13.0" lengthAdjust="spacingAndGlyphs">M5</text>
<text x="984.2" y="11" font-size="10" fill="#3a3a3a" font-family="'Liberation Sans',sans-serif" textLength="18.4" lengthAdjust="spacingAndGlyphs">M15</text>
<text x="1012.5" y="11" font-size="10" fill="#3a3a3a" font-family="'Liberation Sans',sans-serif" textLength="18.5" lengthAdjust="spacingAndGlyphs">M30</text>
<text x="1043.3" y="11" font-size="10" fill="#3a3a3a" font-family="'Liberation Sans',sans-serif" textLength="12.4" lengthAdjust="spacingAndGlyphs">H1</text>
<text x="1070.3999999999999" y="11" font-size="10" fill="#3a3a3a" font-family="'Liberation Sans',sans-serif" textLength="12.6" lengthAdjust="spacingAndGlyphs">H4</text>
<text x="1099.1999999999998" y="11" font-size="10" fill="#3a3a3a" font-family="'Liberation Sans',sans-serif" textLength="12.4" lengthAdjust="spacingAndGlyphs">D1</text>
<text x="1126.8999999999999" y="11" font-size="10" fill="#3a3a3a" font-family="'Liberation Sans',sans-serif" textLength="15.3" lengthAdjust="spacingAndGlyphs">W1</text>
<text x="1153.3" y="11" font-size="10" fill="#3a3a3a" font-family="'Liberation Sans',sans-serif" textLength="15.8" lengthAdjust="spacingAndGlyphs">MN</text>
<line x1="1643.3" y1="8" x2="1639.2" y2="11.8" stroke="#2a58cc" stroke-width="2.4" stroke-linecap="round"/><circle cx="1646.6" cy="4.3" r="3.9" fill="#f3f3fc" stroke="#2a5cd4" stroke-width="1.3"/>
<path d="M1669.4,13.6 a6,4.8 0 1 1 2,-0.2 l-4.6,0.2 l-0.6,2.2 l-1,-2.4z" fill="#e6e6ec" stroke="#a4a4a8" stroke-width="0.8"/>
<ellipse cx="1669.3" cy="8.9" rx="6.1" ry="4.8" fill="#e4e4ea" stroke="#a4a4a8" stroke-width="0.8"/><ellipse cx="1668.6" cy="7" rx="4.6" ry="2.2" fill="#fafafc" opacity="0.8"/>
<circle cx="1677.5" cy="4.1" r="8.3" fill="url(#gRed)"/>
<text x="1673.7" y="9.1" font-size="13" fill="#fff" stroke="#fff" stroke-width="0.35" font-family="'Liberation Serif',serif" textLength="5.6" lengthAdjust="spacingAndGlyphs">1</text>
</svg>
</body></html>
